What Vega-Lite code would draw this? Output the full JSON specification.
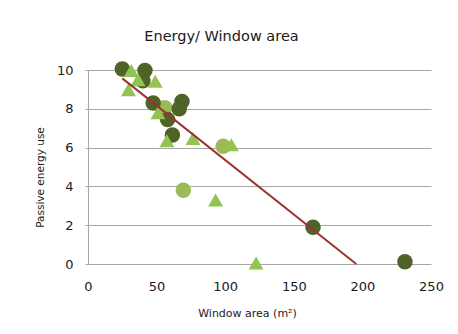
{
  "$schema": "https://vega.github.io/schema/vega-lite/v6.json",
  "autosize": "none",
  "width": 343,
  "height": 194,
  "padding": {"left": 88, "top": 70, "right": 27, "bottom": 70},
  "background": "white",
  "config": {
    "view": {"stroke": null},
    "font": "DejaVu Sans",
    "axis": {"labelFont": "DejaVu Sans", "titleFont": "DejaVu Sans", "labelColor": "#1a1a1a", "titleColor": "#1a1a1a", "titleFontWeight": "normal", "gridColor": "#a6a6a6", "gridOpacity": 1, "gridWidth": 1, "labelFlush": false, "labelOverlap": false}
  },
  "title": {"text": "Energy/ Window area", "fontSize": 14.5, "fontWeight": "normal", "font": "DejaVu Sans", "color": "#1a1a1a", "anchor": "middle", "dx": -38, "offset": 17},
  "datasets": {
    "pts": [
      {"s": "dark", "x": 25, "y": 10.05},
      {"s": "dark", "x": 41.5, "y": 9.97},
      {"s": "dark", "x": 40, "y": 9.45},
      {"s": "dark", "x": 47.5, "y": 8.3},
      {"s": "dark", "x": 68.5, "y": 8.38},
      {"s": "dark", "x": 66.5, "y": 8.0},
      {"s": "dark", "x": 58, "y": 7.45},
      {"s": "dark", "x": 61.5, "y": 6.65},
      {"s": "dark", "x": 164, "y": 1.89},
      {"s": "dark", "x": 231, "y": 0.12},
      {"s": "light", "x": 56, "y": 8.05},
      {"s": "light", "x": 98.5, "y": 6.07},
      {"s": "light", "x": 69.5, "y": 3.8},
      {"s": "tri", "x": 31.5, "y": 9.98},
      {"s": "tri", "x": 29.5, "y": 8.98},
      {"s": "tri", "x": 36.5, "y": 9.5},
      {"s": "tri", "x": 49, "y": 9.42},
      {"s": "tri", "x": 51, "y": 7.8},
      {"s": "tri", "x": 57.5, "y": 6.35},
      {"s": "tri", "x": 76.5, "y": 6.47},
      {"s": "tri", "x": 104.5, "y": 6.15},
      {"s": "tri", "x": 93, "y": 3.3},
      {"s": "tri", "x": 122.5, "y": 0.05}
    ],
    "trend": [
      {"x": 25, "y": 9.57},
      {"x": 195.5, "y": 0}
    ]
  },
  "layer": [
    {
      "data": {"name": "pts"},
      "transform": [{"filter": "datum.s === 'light'"}],
      "mark": {"type": "point", "shape": "circle", "filled": true, "size": 240, "color": "#9bbb59", "opacity": 1},
      "encoding": {
        "x": {"field": "x", "type": "quantitative", "scale": {"domain": [0, 250], "nice": false}, "axis": {"values": [0, 50, 100, 150, 200, 250], "tickCount": 10, "grid": false, "domain": false, "ticks": false, "labelFontSize": 13, "labelPadding": 16, "title": "Window area (m²)", "titleFontSize": 11, "titlePadding": 14, "titleX": 159}},
        "y": {"field": "y", "type": "quantitative", "scale": {"domain": [0, 10], "nice": false}, "axis": {"values": [0, 2, 4, 6, 8, 10], "tickCount": 10, "grid": true, "domain": true, "domainColor": "#a6a6a6", "ticks": true, "tickSize": 3, "tickColor": "#a6a6a6", "labelFontSize": 13, "labelPadding": 12, "title": "Passive energy use", "titleFontSize": 10.5, "titlePadding": 11, "titleY": 107}}
      }
    },
    {
      "data": {"name": "pts"},
      "transform": [{"filter": "datum.s === 'dark'"}],
      "mark": {"type": "point", "shape": "circle", "filled": true, "size": 240, "color": "#4f6228", "opacity": 1},
      "encoding": {
        "x": {"field": "x", "type": "quantitative"},
        "y": {"field": "y", "type": "quantitative"}
      }
    },
    {
      "data": {"name": "pts"},
      "transform": [{"filter": "datum.s === 'tri'"}],
      "mark": {"type": "point", "shape": "triangle-up", "filled": true, "size": 225, "color": "#92c451", "opacity": 1},
      "encoding": {
        "x": {"field": "x", "type": "quantitative"},
        "y": {"field": "y", "type": "quantitative"}
      }
    },
    {
      "data": {"name": "trend"},
      "mark": {"type": "line", "color": "#9b3331", "strokeWidth": 2},
      "encoding": {
        "x": {"field": "x", "type": "quantitative"},
        "y": {"field": "y", "type": "quantitative"}
      }
    }
  ]
}
